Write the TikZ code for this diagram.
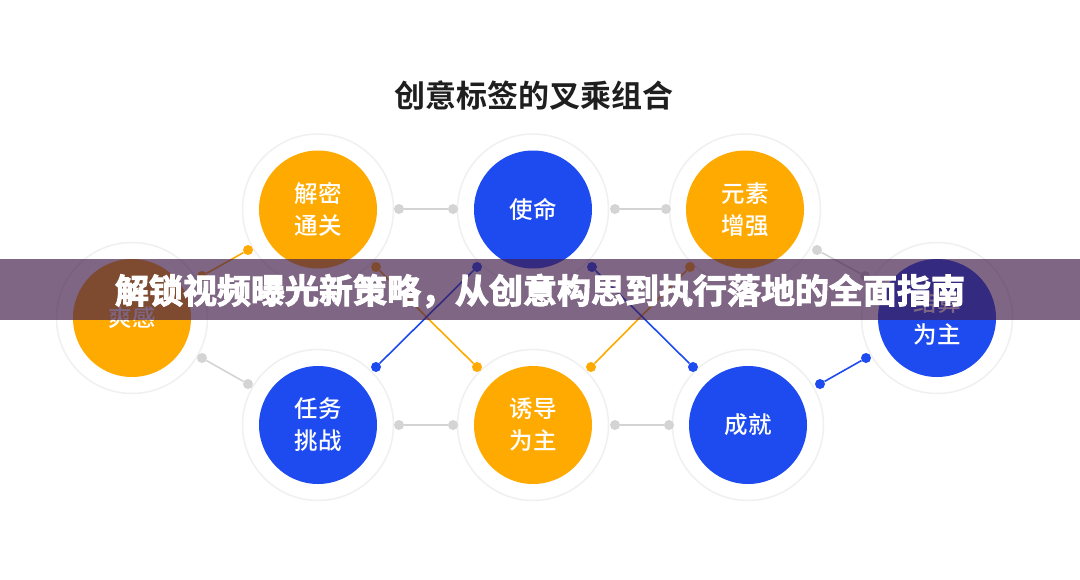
\documentclass[tikz,border=0pt]{standalone}
\usepackage{fontspec}
\setmainfont{Noto Sans CJK SC}[BoldFont={Noto Sans CJK SC Bold}]
\newfontfamily\cjkhead{Noto Sans CJK SC Bold}[FakeBold=3]
\newfontfamily\cjkdisc{Noto Sans CJK SC Medium}
\definecolor{cOrange}{RGB}{255,170,0}
\definecolor{cBlue}{RGB}{30,75,240}
\definecolor{cGrey}{RGB}{212,212,212}
\definecolor{cRing}{RGB}{240,240,240}
\definecolor{cBand}{RGB}{64,27,73}
\tikzset{
  ring/.style={circle,draw=cRing,line width=1.5pt,fill=white,minimum size=151pt,inner sep=0pt},
  disc/.style={circle,minimum size=118pt,inner sep=0pt,text=white,align=center,font=\fontsize{23.5}{32}\cjkdisc},
  orangedisc/.style={disc,fill=cOrange},
  bluedisc/.style={disc,fill=cBlue},
  dot/.style={circle,minimum size=10pt,inner sep=0pt},
  greydot/.style={dot,fill=cGrey},
  orangedot/.style={dot,fill=cOrange},
  bluedot/.style={dot,fill=cBlue},
  greyline/.style={draw=cGrey,line width=1.6pt},
  orangeline/.style={draw=cOrange,line width=1.6pt},
  blueline/.style={draw=cBlue,line width=1.6pt},
  heading/.style={font=\fontsize{31}{36}\selectfont\bfseries,text=black!88},
  bandtitle/.style={font=\fontsize{34}{38}\cjkhead,text=white}
}
\begin{document}
\begin{tikzpicture}[x=1pt,y=-1pt]
\useasboundingbox (0,0) rectangle (1080,579);
\fill[white] (0,0) rectangle (1080,579);
\node[heading] (head) at (534,96) {创意标签的叉乘组合};
% rings
\foreach \n/\x/\y in {r1/318/209.5,r2/533/209.5,r3/745/209.5,r4/132/318,r5/937/318,r6/318/425,r7/533/425,r8/748/425}
  \node[ring] (\n) at (\x,\y) {};
% discs
\node[orangedisc] (jiemi) at (318,209.5) {解密\\通关};
\node[bluedisc] (shiming) at (533,209.5) {使命};
\node[orangedisc] (yuansu) at (745,209.5) {元素\\增强};
\node[orangedisc] (shuanggan) at (132,318) {爽感};
\node[bluedisc] (jiesuan) at (937,318) {结算\\为主};
\node[bluedisc] (renwu) at (318,425) {任务\\挑战};
\node[orangedisc] (youdao) at (533,425) {诱导\\为主};
\node[bluedisc] (chengjiu) at (748,425) {成就};
% dots
\node[greydot] (g1) at (399,209) {};
\node[greydot] (g2) at (453,209) {};
\node[greydot] (g3) at (615,209) {};
\node[greydot] (g4) at (666,209) {};
\node[greydot] (g5) at (399,425) {};
\node[greydot] (g6) at (453,425) {};
\node[greydot] (g7) at (615,425) {};
\node[greydot] (g8) at (669,425) {};
\node[greydot] (g9) at (202,358) {};
\node[greydot] (g10) at (248,384) {};
\node[greydot] (g11) at (817,250) {};
\node[greydot] (g12) at (865,276) {};
\node[orangedot] (o1) at (248,250) {};
\node[orangedot] (o2) at (202,276) {};
\node[orangedot] (o3) at (376,267) {};
\node[orangedot] (o4) at (477,367) {};
\node[orangedot] (o5) at (690,267) {};
\node[orangedot] (o6) at (591,367) {};
\node[bluedot] (b1) at (477,267) {};
\node[bluedot] (b2) at (376,367) {};
\node[bluedot] (b3) at (592,267) {};
\node[bluedot] (b4) at (693,367) {};
\node[bluedot] (b5) at (820,384) {};
\node[bluedot] (b6) at (866,358) {};
% connectors
\foreach \a/\b in {g1/g2,g3/g4,g5/g6,g7/g8,g9/g10,g11/g12}
  \draw[greyline] (\a) -- (\b);
\foreach \a/\b in {o1/o2,o3/o4,o5/o6}
  \draw[orangeline] (\a) -- (\b);
\foreach \a/\b in {b1/b2,b3/b4,b5/b6}
  \draw[blueline] (\a) -- (\b);
% banner
\fill[cBand,fill opacity=0.67] (0,258.5) rectangle (1080,320);
\node[bandtitle] (band) at (540,291) {解锁视频曝光新策略，从创意构思到执行落地的全面指南};
\end{tikzpicture}
\end{document}
